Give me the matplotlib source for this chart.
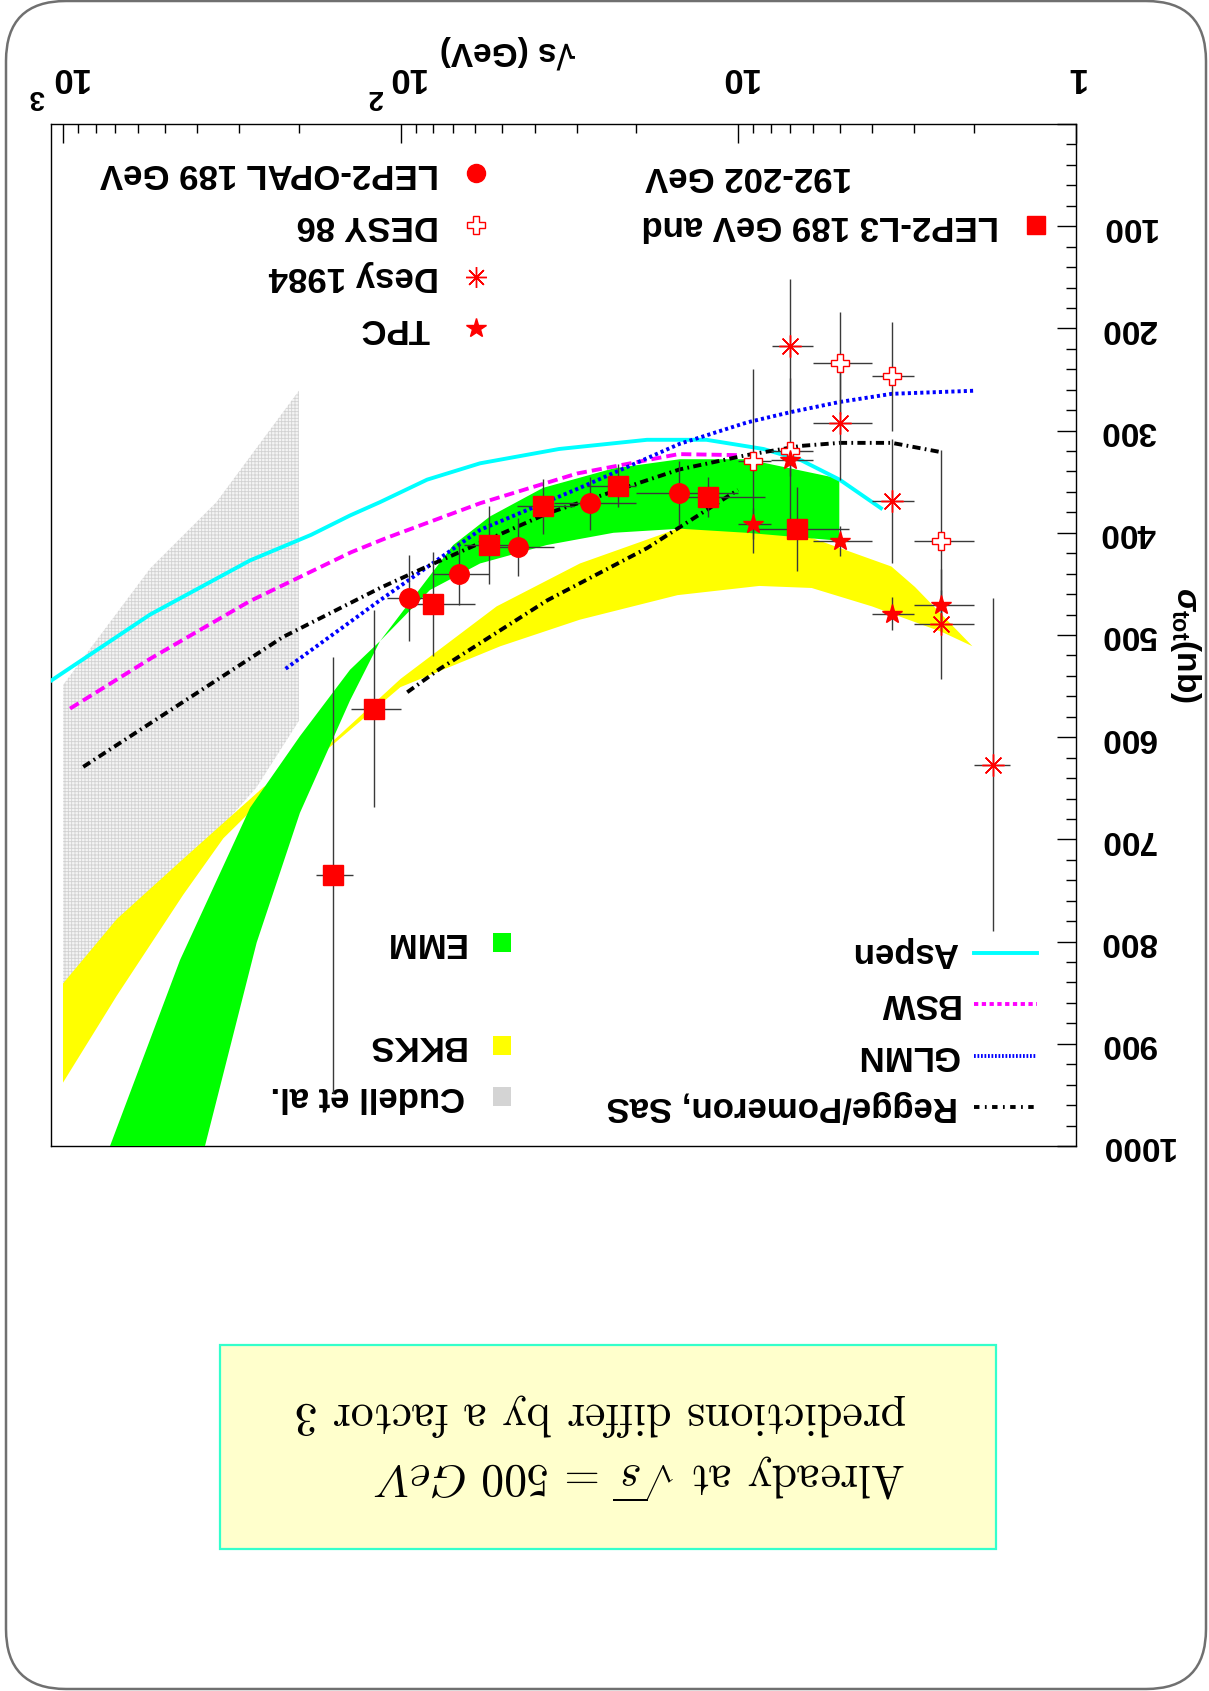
import numpy as np
import matplotlib
matplotlib.use('Agg')
import matplotlib.pyplot as plt
from matplotlib.patches import Polygon, FancyBboxPatch, Rectangle
from matplotlib.ticker import LogLocator, MultipleLocator, NullFormatter, FixedLocator
import matplotlib.transforms as mtransforms

plt.rcParams['font.family'] = ['Liberation Sans', 'DejaVu Sans']
plt.rcParams['mathtext.fontset'] = 'custom'
plt.rcParams['mathtext.rm'] = 'Liberation Sans:bold'
plt.rcParams['mathtext.bf'] = 'Liberation Sans:bold'
plt.rcParams['mathtext.it'] = 'Liberation Sans:bold:italic'
plt.rcParams['hatch.linewidth'] = 0.6

# ---------------- data ----------------
# LEP2-L3 (squares)
l3_w = [6.7, 12.3, 22.6, 37.8, 54.6, 80.0, 120.0, 158.0]
l3_sig = [396, 365, 354, 374, 412, 470, 572, 735]
l3_err = [41, 20, 21, 27, 38, 51, 96, 213]
l3_wlo = [4.7, 8.3, 20.0, 30.6, 46.0, 60.0, 100.0, 138.0]
l3_whi = [8.7, 15.5, 28.1, 45.3, 65.0, 90.0, 140.0, 178.0]

# LEP2-OPAL (circles)
opal_w = [15.0, 27.4, 44.8, 67.1, 94.4]
opal_sig = [361, 371, 414, 440, 464]
opal_err = [31, 26, 28, 31, 42]
opal_wlo = [10.0, 20.0, 35.0, 54.6, 80.0]
opal_whi = [20.0, 35.0, 54.4, 80.0, 110.0]

# DESY 86 (open crosses)
desy86_w = [9.0, 7.0, 5.0, 3.5, 2.5]
desy86_sig = [330, 320, 234, 247, 408]
desy86_err = [90, 71, 50, 53, 89]
desy86_wlo = [8.0, 6.0, 4.0, 3.0, 2.0]
desy86_whi = [10.0, 8.0, 6.0, 4.0, 3.0]

# Desy 1984 (asterisks)
desy84_w = [7.0, 5.0, 3.5, 2.5, 1.75]
desy84_sig = [217, 293, 369, 489, 627]
desy84_err = [65, 55, 61, 54, 163]
desy84_wlo = [6.0, 4.0, 3.0, 2.0, 1.56]
desy84_whi = [7.94, 6.0, 4.0, 3.0, 2.0]

# TPC (stars)
tpc_w = [9.0, 7.0, 5.0, 3.5, 2.5]
tpc_sig = [391, 329, 408, 479, 471]
tpc_err = [15, 15, 15, 16, 15]
tpc_wlo = [8.0, 6.0, 4.0, 3.0, 2.0]
tpc_whi = [10.0, 8.0, 6.0, 4.0, 3.0]

# model curves
aspen_w = [1100, 552, 279, 184, 141, 115, 83.4, 58.1, 33.9, 18.6, 12.4, 8.4, 6.5, 5.0, 3.73]
aspen_sig = [546, 480, 427, 402, 383, 370, 348, 332, 318, 309, 309, 318, 329, 348, 377]
bsw_w = [953, 550, 280, 140, 110, 58, 30, 15, 10]
bsw_sig = [572, 523, 467, 419, 405, 371, 342, 323, 324]
glmn_w = [219, 115, 58, 29.4, 14.9, 9.4, 7.0, 5.0, 3.5, 2.0]
glmn_sig = [533, 466, 397, 356, 313, 292, 282, 272, 264, 261]
sas1_w = [871, 223, 115, 83.5, 36.7, 14.9, 9.44, 6.53, 5.0, 3.5, 2.51]
sas1_sig = [629, 502, 454, 433, 381, 338, 324, 315, 312, 312, 321]
sas2_w = [95.5, 76.4, 36.7, 18.6, 10.0]
sas2_sig = [556, 533, 466, 415, 358]

# EMM band edges
emm_e1_w = [827, 725.6, 450, 279, 198.6, 141.1, 115, 69.8, 54.3, 37.8, 23.4, 14.86, 9.42, 5.01]
emm_e1_sig = [1050, 1000, 818, 669, 599, 534, 506, 412, 384, 356, 337, 328, 328, 347]
emm_e2_w = [414, 379.6, 266.8, 198.6, 141.1, 115, 81.8, 58.1, 36.9, 23.4, 14.86, 9.42, 5.34, 5.01]
emm_e2_sig = [1050, 1000, 801, 674, 564, 506, 456, 430, 412, 400, 396, 400, 407, 409]

# BKKS band edges
bkks_e1_w = [2.02, 2.99, 3.51, 6.05, 9.44, 15.1, 29.4, 51.9, 100, 165, 200, 335, 440, 693, 1000]
bkks_e1_sig = [511, 453, 433, 405, 396, 396, 430, 472, 543, 609, 626, 699, 754, 853, 938]
bkks_e2_w = [2.02, 2.49, 4.01, 6.05, 8.65, 15.1, 29.4, 50.6, 100, 165, 200, 255, 440, 693, 1000]
bkks_e2_sig = [511, 497, 472, 454, 452, 461, 485, 511, 551, 612, 628, 649, 719, 778, 841]

# Cudell et al. band outline
cudell_w = [1000, 552, 351, 200, 200, 267, 440, 693, 1000]
cudell_sig = [549, 435, 370, 261, 584, 649, 730, 800, 870]

x_ticks = [1, 10, 100, 1000]
x_tick_base = ['1', '10', '10', '10']
x_tick_exp = ['', '', '2', '3']
y_ticks = [100, 200, 300, 400, 500, 600, 700, 800, 900, 1000]

# ---------------- layout ----------------
W, H = 1209, 1691
AX_L, AX_R, AX_T, AX_B = 50.7, 1075.5, 124.0, 1146.0
DEC = 337.5

fig = plt.figure(figsize=(W / 100, H / 100), dpi=100)
ax = fig.add_axes([AX_L / W, 1 - AX_B / H, (AX_R - AX_L) / W, (AX_B - AX_T) / H])
ax.set_xscale('log')
ax.set_xlim(10 ** ((AX_R - AX_L) / DEC), 1)
ax.set_ylim(1000, 0)

def fx(px):
    return (px - AX_L) / (AX_R - AX_L)

def fy(py):
    return (AX_B - py) / (AX_B - AX_T)

pix = mtransforms.Affine2D().scale(1.0 / W, 1.0 / H) + fig.transFigure

for s in ax.spines.values():
    s.set_linewidth(1.0)
    s.set_color('black')

ax.xaxis.set_major_locator(FixedLocator(x_ticks))
ax.xaxis.set_minor_locator(LogLocator(base=10, subs=np.arange(2, 10), numticks=100))
ax.xaxis.set_minor_formatter(NullFormatter())
ax.yaxis.set_major_locator(MultipleLocator(100))
ax.yaxis.set_minor_locator(MultipleLocator(20))
ax.tick_params(axis='x', which='both', direction='in', top=True, bottom=False,
               labeltop=False, labelbottom=False, color='black')
ax.tick_params(axis='x', which='major', length=13.5, width=1)
ax.tick_params(axis='x', which='minor', length=6.3, width=1)
ax.tick_params(axis='y', which='both', direction='in', left=False, right=True,
               labelleft=False, labelright=False, color='black')
ax.tick_params(axis='y', which='major', length=14, width=1)
ax.tick_params(axis='y', which='minor', length=7, width=1)

# tick labels (upside down)
tx = mtransforms.blended_transform_factory(ax.transData, ax.transAxes)
def shifted(dx_px):
    return tx + mtransforms.ScaledTranslation(dx_px / 100.0, 0, fig.dpi_scale_trans)

for v, b, e in zip(x_ticks, x_tick_base, x_tick_exp):
    if e:
        ax.text(v, fy(68), b, transform=shifted(5), rotation=180, rotation_mode='anchor',
                ha='center', va='baseline', fontsize=25, fontweight='bold', clip_on=False)
        ax.text(v, fy(90), e, transform=shifted(-26), rotation=180, rotation_mode='anchor',
                ha='center', va='baseline', fontsize=20, fontweight='bold', clip_on=False)
    else:
        ax.text(v, fy(68), b, transform=tx, rotation=180, rotation_mode='anchor',
                ha='center', va='baseline', fontsize=25, fontweight='bold', clip_on=False)
ty = mtransforms.blended_transform_factory(ax.transAxes, ax.transData)
for v in y_ticks:
    ax.text(fx(1100), v, str(v), transform=ty, rotation=180, rotation_mode='anchor',
            ha='right', va='center', fontsize=24, fontweight='bold', clip_on=False)

# axis titles
ax.text(fx(507), fy(52), '√s (GeV)', transform=ax.transAxes, rotation=180,
        rotation_mode='anchor', ha='center', va='center', fontsize=24,
        fontweight='bold', clip_on=False)
ax.text(fx(1186), fy(645), r'$\sigma_{\mathrm{tot}}$(nb)', transform=ax.transAxes,
        rotation=270, rotation_mode='anchor', ha='center', va='center', fontsize=24,
        fontweight='bold', clip_on=False)

# ---------------- bands ----------------
cud = Polygon(np.column_stack([cudell_w, cudell_sig]), closed=True, facecolor='#f4f4f4',
              edgecolor='#d2d2d2', hatch='+++++', linewidth=0, zorder=1)
ax.add_patch(cud)

bk = np.column_stack([bkks_e1_w + bkks_e2_w[::-1], bkks_e1_sig + bkks_e2_sig[::-1]])
ax.add_patch(Polygon(bk, closed=True, facecolor='#FFFF00', edgecolor='none', zorder=2))

em = np.column_stack([emm_e1_w + emm_e2_w[::-1], emm_e1_sig + emm_e2_sig[::-1]])
ax.add_patch(Polygon(em, closed=True, facecolor='#00FF00', edgecolor='none', zorder=3))

# ---------------- curves ----------------
LW = 2.8
ax.plot(aspen_w, aspen_sig, color='#00FFFF', lw=LW, zorder=4, solid_capstyle='butt')
ax.plot(bsw_w, bsw_sig, color='#FF00FF', lw=LW, dashes=(2.6, 1.3), zorder=4)
ax.plot(glmn_w, glmn_sig, color='#0000FF', lw=LW, dashes=(0.8, 0.8), zorder=4)
ax.plot(sas1_w, sas1_sig, color='black', lw=LW, dashes=(2.1, 1.1, 0.45, 1.1), zorder=4)
ax.plot(sas2_w, sas2_sig, color='black', lw=LW, dashes=(2.1, 1.1, 0.45, 1.1), zorder=4)

# ---------------- data points ----------------
def xerr(w, lo, hi):
    w = np.array(w); return [w - np.array(lo), np.array(hi) - w]

EC = '#3a3a3a'
for w, s, e, lo, hi in [(l3_w, l3_sig, l3_err, l3_wlo, l3_whi),
                        (opal_w, opal_sig, opal_err, opal_wlo, opal_whi),
                        (desy86_w, desy86_sig, desy86_err, desy86_wlo, desy86_whi),
                        (desy84_w, desy84_sig, desy84_err, desy84_wlo, desy84_whi),
                        (tpc_w, tpc_sig, tpc_err, tpc_wlo, tpc_whi)]:
    ax.errorbar(w, s, yerr=e, xerr=xerr(w, lo, hi), fmt='none', ecolor=EC,
                elinewidth=1.0, capsize=0, zorder=5)

ax.plot(l3_w, l3_sig, 's', ms=14, color='red', mec='red', zorder=6)
ax.plot(opal_w, opal_sig, 'o', ms=14, color='red', mec='red', zorder=6)
ax.plot(desy86_w, desy86_sig, 'P', ms=13, mfc='white', mec='red', mew=1.0, zorder=6)
ax.plot(desy84_w, desy84_sig, marker=(8, 2, 0), ls='none', ms=16, mec='red', mew=1.0, zorder=6)
ax.plot(tpc_w, tpc_sig, '*', ms=15, color='red', mec='red', zorder=6)

# ---------------- legends ----------------
LFS = 25
def ltext(px, py, s):
    ax.text(fx(px), fy(py), s, transform=ax.transAxes, rotation=180, rotation_mode='anchor',
            ha='left', va='center', fontsize=LFS, fontweight='bold', clip_on=False)

def lmark(px, py, **kw):
    ax.plot([fx(px)], [fy(py)], transform=ax.transAxes, clip_on=False, ls='none', zorder=7, **kw)

lmark(475.7, 173.3, marker='o', ms=13, color='red', mec='red')
ltext(438.8, 173.3, 'LEP2-OPAL 189 GeV')
lmark(475.7, 225.0, marker='P', ms=13, mfc='white', mec='red', mew=1.0)
ltext(438.8, 225.0, 'DESY 86')
lmark(475.7, 276.7, marker=(8, 2, 0), ms=15, mec='red', mew=1.0)
ltext(438.8, 276.7, 'Desy 1984')
lmark(475.7, 328.3, marker='*', ms=15, color='red', mec='red')
ltext(430.0, 328.3, 'TPC')

lmark(1035.7, 225.0, marker='s', ms=13, color='red', mec='red')
ltext(998.8, 225.0, 'LEP2-L3 189 GeV and')
ltext(852.4, 176.7, '192-202 GeV')

line_specs = [(952.7, 'Aspen', dict(color='#00FFFF', lw=LW)),
              (1004.0, 'BSW', dict(color='#FF00FF', lw=LW, dashes=(1.1, 0.9))),
              (1055.7, 'GLMN', dict(color='#0000FF', lw=LW, dashes=(0.45, 0.45))),
              (1106.7, 'Regge/Pomeron, SaS', dict(color='black', lw=LW, dashes=(1.4, 1.4, 0.45, 1.4)))]
for py, lab, kw in line_specs:
    ax.plot([fx(974), fx(1037)], [fy(py), fy(py)], transform=ax.transAxes, clip_on=False, zorder=7, **kw)
    ltext(958.4, py, lab)

band_specs = [(942.5, 'EMM', '#00FF00'), (1045.0, 'BKKS', '#FFFF00'), (1096.7, 'Cudell et al.', '#d4d4d4')]
for py, lab, c in band_specs:
    ax.add_patch(Rectangle((fx(493), fy(py + 9.5)), 18 / (AX_R - AX_L), 19 / (AX_B - AX_T),
                           transform=ax.transAxes, facecolor=c, edgecolor='none', clip_on=False, zorder=7))
    ltext(465.0, py, lab)

# ---------------- page decorations ----------------
fig.patches.append(FancyBboxPatch((6, H - 1689), 1200, 1688,
                                  boxstyle='round,pad=0,rounding_size=60', transform=pix,
                                  fill=False, edgecolor='#707070', linewidth=1.8))
fig.patches.append(Rectangle((220, H - 1549), 776, 204, transform=pix,
                             facecolor='#FFFFCC', edgecolor='#33FFCC', linewidth=1.6))
fig.text(906 / W, 1 - 1463 / H, r'Already at $\sqrt{s}\,=\,500\ GeV$', rotation=180,
         rotation_mode='anchor', ha='left', va='baseline', fontsize=33,
         family='cmr10', math_fontfamily='cm')
fig.text(906 / W, 1 - 1404 / H, 'predictions differ by a factor 3', rotation=180,
         rotation_mode='anchor', ha='left', va='baseline', fontsize=33,
         family='cmr10', math_fontfamily='cm')

fig.savefig('out.png', dpi=100)
